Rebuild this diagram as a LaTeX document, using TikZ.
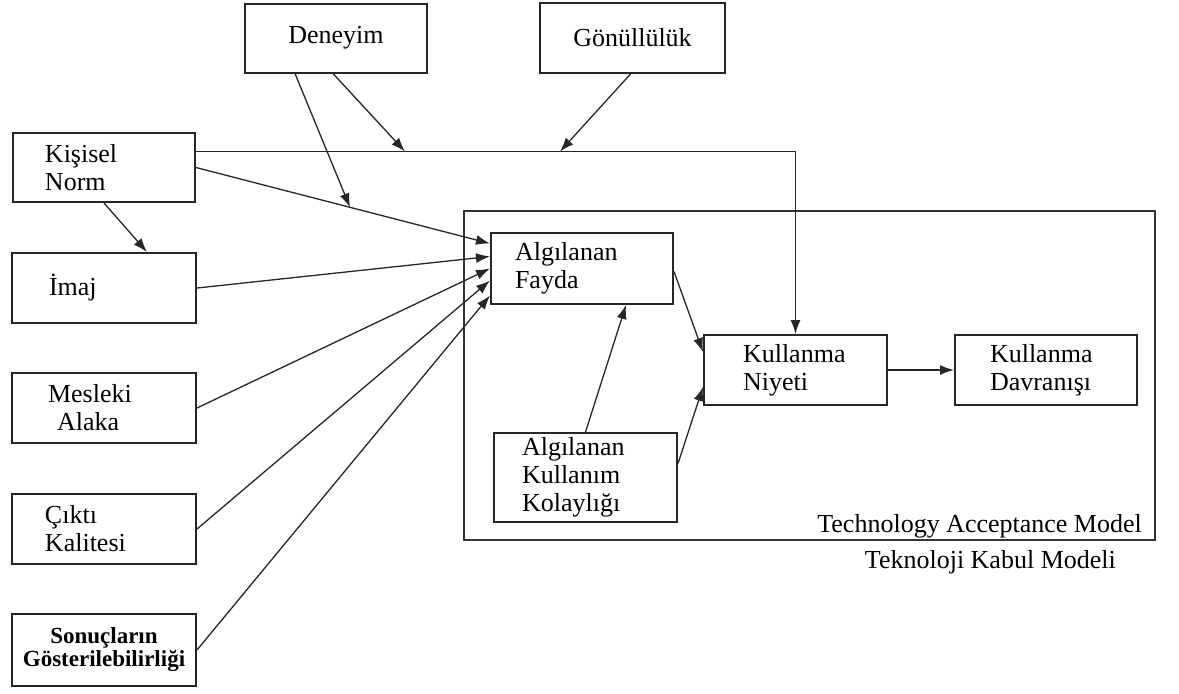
\documentclass[tikz,border=0pt]{standalone}
\usepackage{fontspec}
\setmainfont{Liberation Serif}
\usetikzlibrary{arrows.meta,calc}

\tikzset{
    kutu/.style={draw=black!85, line width=1pt, minimum width=91pt, minimum height=35pt, inner ysep=0pt, align=left},
    ok/.style={draw=black!85, line width=0.65pt, -{Latex[length=7pt,width=5pt]}}
}

\begin{document}
\begin{tikzpicture}[x=0.5pt, y=-0.5pt, font=\fontsize{13}{14}\selectfont]
        \useasboundingbox (0,0) rectangle (1179,693);

        % TAM frame
        \node[draw=black!80, line width=0.9pt, minimum width=345.5pt, minimum height=164.5pt, inner sep=0pt] (tam) at (809.5,375.5) {};
        \node[anchor=base east] (tamen) at ([xshift=-3.5pt,yshift=4pt]tam.south east) {Technology Acceptance Model};
        \node[anchor=base east] (tamtr) at ([xshift=-16.5pt,yshift=-14pt]tam.south east) {Teknoloji Kabul Modeli};

        \node[kutu, align=center, minimum height=34.5pt] (deneyim) at (336,38) {Deneyim};
        \node[kutu, align=center, minimum width=92.5pt] (gonullu) at (632.5,38) {Gönüllülük};

        \node[kutu, inner xsep=16pt, text width=59pt, minimum height=34.5pt] (kisisel) at (104,167.5) {Kişisel\\Norm};
        \node[kutu, inner xsep=18.5pt, text width=55pt, minimum width=92pt] (imaj) at (104,288) {İmaj};
        \node[kutu, inner xsep=18pt, text width=56pt, minimum width=92pt] (mesleki) at (104,408) {Mesleki\\\hspace*{4.5pt}Alaka};
        \node[kutu, inner xsep=16.5pt, text width=59pt, minimum width=92pt] (cikti) at (104,529) {Çıktı\\Kalitesi};
        \node[kutu, inner xsep=2pt, text width=88pt, minimum width=92pt, minimum height=36pt, align=center,
              font=\fontsize{11.5}{11.5}\selectfont\bfseries] (sonuc) at (104,650) {Sonuçların\\Gösterilebilirliği};

        \node[kutu, inner xsep=12pt, text width=67pt, minimum height=35.5pt] (fayda) at (582,268.5) {Algılanan\\Fayda};
        \node[kutu, inner xsep=19.5pt, text width=52.5pt, minimum width=91.5pt] (niyet) at (795.5,370) {Kullanma\\Niyeti};
        \node[kutu, inner xsep=17.5pt, text width=56pt] (davranis) at (1046,370) {Kullanma\\Davranışı};
        \node[kutu, inner xsep=14pt, text width=63.5pt, minimum width=91.5pt, minimum height=44.5pt] (kolay) at (585.5,477.5) {Algılanan\\Kullanım\\Kolaylığı};

        % moderator points
        \coordinate (kf) at ($(kisisel.east)!0.524!($(fayda.west)+(0,-25)$)$);
        \coordinate (dn) at (405,151.5);
        \coordinate (gn) at (560,151.5);

        \draw[ok] ($(kisisel.east)+(0,-16)$) -| (niyet.north);
        \draw[ok] (kisisel.east) -- ($(fayda.west)+(0,-25)$);
        \draw[ok] (kisisel.south) -- ($(imaj.north)+(43,0)$);
        \draw[ok] ($(deneyim.south)+(-41,0)$) -- (kf);
        \draw[ok] ($(deneyim.south)+(-3,0)$) -- (dn);
        \draw[ok] ($(gonullu.south)+(-2,0)$) -- (gn);

        \draw[ok] (imaj.east) -- ($(fayda.west)+(0,-12)$);
        \draw[ok] (mesleki.east) -- (fayda.west);
        \draw[ok] (cikti.east) -- ($(fayda.west)+(0,12)$);
        \draw[ok] (sonuc.east) -- ($(fayda.west)+(0,27)$);

        \draw[ok] ($(fayda.east)+(0,3)$) -- ($(niyet.west)+(0,-18)$);
        \draw[ok] ($(kolay.east)+(0,-14)$) -- ($(niyet.west)+(0,17)$);
        \draw[ok] (kolay.north) -- ($(fayda.south)+(44,0)$);
        \draw[ok] (niyet.east) -- (davranis.west);
    \end{tikzpicture}
\end{document}
